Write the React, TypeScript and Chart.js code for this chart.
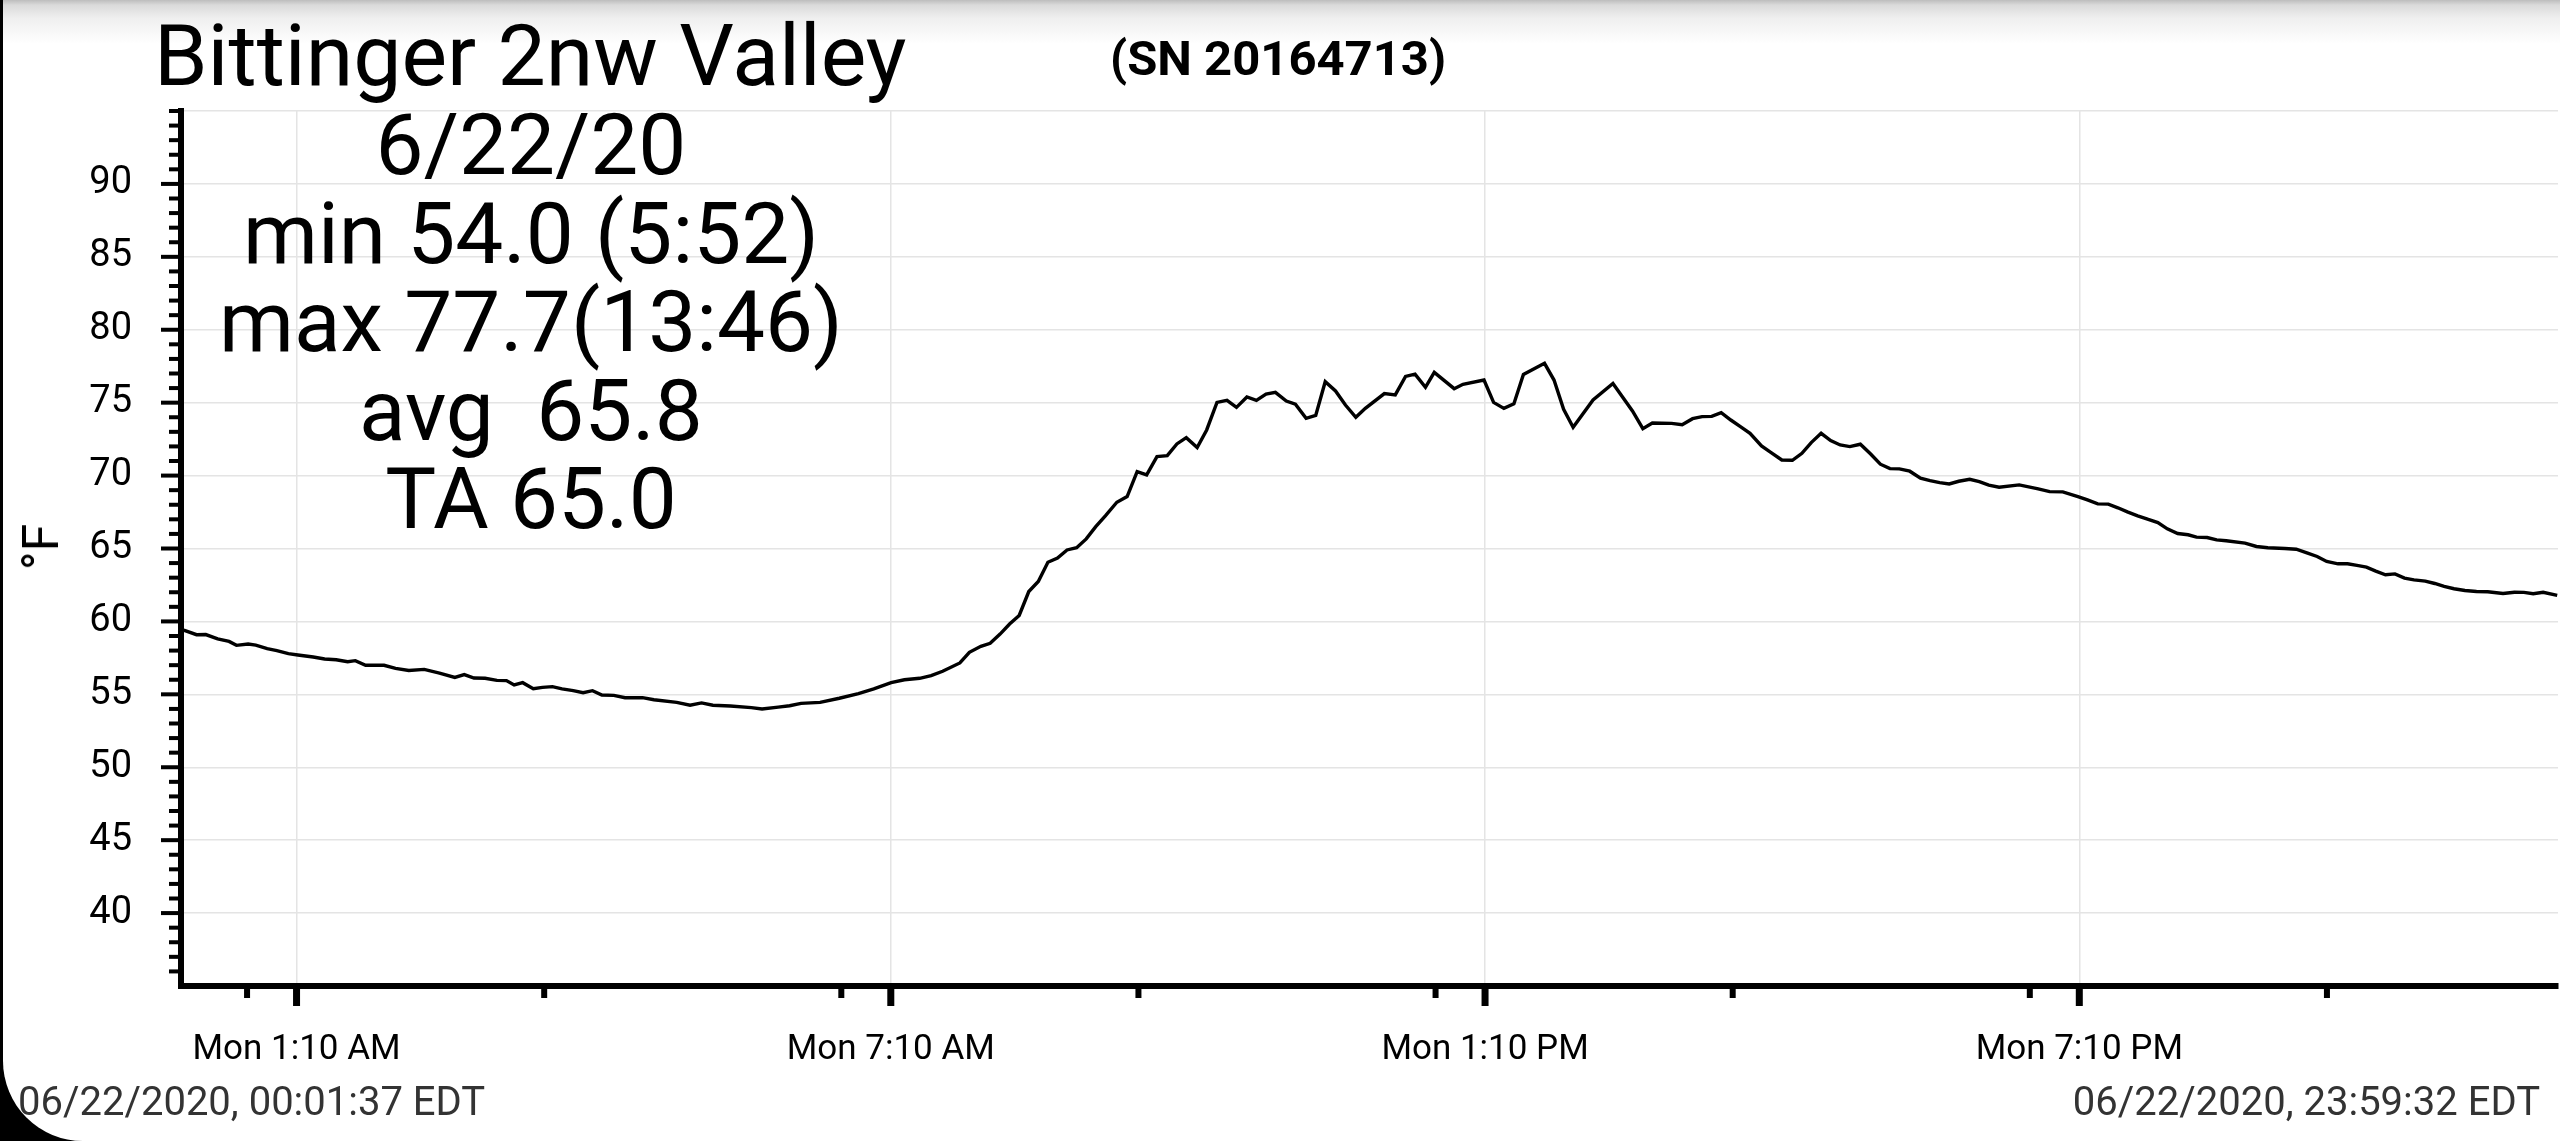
import React, { useEffect, useRef } from 'react';
import { Chart, registerables } from 'chart.js';

Chart.register(...registerables);

// ---- data (time of day in hours, temperature in °F) ----
const TIME_HOURS = [
  0.027, 0.157, 0.25, 0.37, 0.485, 0.56, 0.678, 0.755, 0.87, 0.968,
  1.084, 1.18, 1.335, 1.45, 1.567, 1.683, 1.76, 1.864, 2.05, 2.166,
  2.3, 2.456, 2.61, 2.765, 2.86, 2.958, 3.07, 3.19, 3.286, 3.364,
  3.45, 3.557, 3.65, 3.75, 3.847, 3.96, 4.06, 4.155, 4.25, 4.37,
  4.484, 4.66, 4.775, 5.005, 5.14, 5.256, 5.37, 5.547, 5.759, 5.867,
  6.03, 6.145, 6.26, 6.453, 6.647, 6.84, 6.995, 7.17, 7.304, 7.458,
  7.574, 7.69, 7.864, 7.96, 8.076, 8.17, 8.27, 8.366, 8.463, 8.56,
  8.656, 8.753, 8.85, 8.946, 9.043, 9.14, 9.236, 9.333, 9.449, 9.553,
  9.654, 9.75, 9.854, 9.958, 10.055, 10.15, 10.26, 10.356, 10.46, 10.561,
  10.657, 10.762, 10.858, 10.955, 11.05, 11.16, 11.252, 11.36, 11.457, 11.553,
  11.657, 11.757, 11.862, 11.958, 12.15, 12.26, 12.364, 12.46, 12.565, 12.654,
  12.855, 12.944, 13.156, 13.253, 13.357, 13.458, 13.554, 13.767, 13.863, 13.96,
  14.056, 14.257, 14.458, 14.655, 14.76, 14.856, 15.05, 15.157, 15.262, 15.358,
  15.455, 15.551, 15.648, 15.745, 15.842, 15.958, 16.055, 16.163, 16.27, 16.366,
  16.46, 16.56, 16.656, 16.752, 16.85, 16.956, 17.06, 17.158, 17.255, 17.35,
  17.455, 17.563, 17.66, 17.757, 17.853, 17.95, 18.06, 18.157, 18.253, 18.357,
  18.56, 18.752, 18.867, 19.0, 19.153, 19.249, 19.353, 19.46, 19.556, 19.652,
  19.756, 19.863, 19.96, 20.055, 20.16, 20.265, 20.35, 20.457, 20.553, 20.65,
  20.84, 20.955, 21.07, 21.242, 21.357, 21.472, 21.568, 21.664, 21.779, 21.875,
  21.97, 22.066, 22.16, 22.258, 22.354, 22.45, 22.546, 22.66, 22.756, 22.85,
  22.95, 23.06, 23.177, 23.29, 23.445, 23.56, 23.656, 23.75, 23.85, 23.992,
];

const TEMP_F = [
  59.4, 59.09, 59.1, 58.8, 58.63, 58.36, 58.45, 58.38, 58.13, 58.0,
  57.79, 57.7, 57.56, 57.42, 57.37, 57.24, 57.31, 56.99, 56.99, 56.78,
  56.64, 56.71, 56.46, 56.16, 56.35, 56.12, 56.1, 55.96, 55.94, 55.64,
  55.8, 55.39, 55.48, 55.53, 55.37, 55.25, 55.11, 55.25, 54.95, 54.93,
  54.77, 54.77, 54.63, 54.45, 54.25, 54.41, 54.25, 54.2, 54.09, 54.0,
  54.12, 54.22, 54.38, 54.45, 54.73, 55.05, 55.37, 55.8, 56.0, 56.1,
  56.28, 56.58, 57.15, 57.88, 58.29, 58.5, 59.13, 59.82, 60.41, 62.05,
  62.74, 64.06, 64.34, 64.9, 65.05, 65.66, 66.5, 67.24, 68.17, 68.56,
  70.27, 70.05, 71.3, 71.37, 72.17, 72.6, 71.92, 73.13, 75.02, 75.16,
  74.68, 75.39, 75.16, 75.59, 75.71, 75.11, 74.89, 73.93, 74.13, 76.44,
  75.8, 74.84, 74.0, 74.61, 75.62, 75.53, 76.8, 76.96, 76.05, 77.08,
  75.96, 76.26, 76.55, 75.02, 74.61, 74.93, 76.94, 77.7, 76.55, 74.54,
  73.31, 75.18, 76.32, 74.43, 73.22, 73.61, 73.58, 73.49, 73.9, 74.04,
  74.06, 74.32, 73.81, 73.36, 72.9, 72.03, 71.58, 71.07, 71.05, 71.53,
  72.26, 72.9, 72.4, 72.1, 71.99, 72.15, 71.48, 70.78, 70.48, 70.46,
  70.3, 69.82, 69.66, 69.52, 69.43, 69.61, 69.75, 69.59, 69.34, 69.2,
  69.36, 69.09, 68.9, 68.88, 68.56, 68.33, 68.06, 68.04, 67.79, 67.51,
  67.24, 66.99, 66.78, 66.35, 66.03, 65.94, 65.78, 65.75, 65.59, 65.53,
  65.37, 65.14, 65.05, 65.0, 64.95, 64.68, 64.45, 64.11, 63.95, 63.95,
  63.84, 63.72, 63.45, 63.2, 63.26, 62.97, 62.85, 62.76, 62.6, 62.4,
  62.24, 62.12, 62.05, 62.03, 61.92, 62.0, 61.99, 61.9, 62.0, 61.78,
];

const X_MAJOR_TICKS = [1 + 10 / 60, 7 + 10 / 60, 13 + 10 / 60, 19 + 10 / 60];
const X_MAJOR_LABELS = ['Mon 1:10 AM', 'Mon 7:10 AM', 'Mon 1:10 PM', 'Mon 7:10 PM'];
const X_MINOR_TICKS = [0.667, 3.667, 6.667, 9.667, 12.667, 15.667, 18.667, 21.667];
const X_MIN = 0;
const X_MAX = 24;
const Y_MIN = 35;
const Y_MAX = 95;
const Y_STEP = 5;

const TITLE = 'Bittinger 2nw Valley';
const SERIAL = '(SN 20164713)';
const STATS_LINES = ['6/22/20', 'min 54.0 (5:52)', 'max 77.7(13:46)', 'avg  65.8', 'TA 65.0'];
const Y_UNIT = '°F';
const START_STAMP = '06/22/2020, 00:01:37 EDT';
const END_STAMP = '06/22/2020, 23:59:32 EDT';

const FONT = 'Roboto, "Noto Sans", sans-serif';

const tickPlugin = {
  id: 'customTicks',
  afterDraw(chart: any) {
    const { ctx, chartArea } = chart;
    const x = chart.scales.x;
    const y = chart.scales.y;
    ctx.save();
    ctx.fillStyle = '#000';
    // y ticks: minor every 1°, major every 5°
    for (let v = Y_MIN + 1; v <= Y_MAX; v += 1) {
      const py = y.getPixelForValue(v);
      const major = v % Y_STEP === 0 && v !== Y_MAX;
      const len = major ? 17 : 9;
      ctx.fillRect(chartArea.left - 3 - len, py - 2, len, 4);
    }
    // x ticks
    const base = chartArea.bottom + 3;
    for (const v of X_MINOR_TICKS) {
      const px = x.getPixelForValue(v);
      ctx.fillRect(px - 3, base, 6, 9);
    }
    for (const v of X_MAJOR_TICKS) {
      const px = x.getPixelForValue(v);
      ctx.fillRect(px - 3.5, base, 7, 17);
    }
    ctx.restore();
  },
};

export default function App() {
  const canvasRef = useRef<HTMLCanvasElement | null>(null);

  useEffect(() => {
    document.body.style.margin = '0';
    document.body.style.overflow = 'hidden';
    const canvas = canvasRef.current;
    if (!canvas) return;
    const chart = new Chart(canvas, {
      type: 'line',
      data: {
        datasets: [
          {
            data: TIME_HOURS.map((t, i) => ({ x: t, y: TEMP_F[i] })),
            borderColor: '#000',
            borderWidth: 3.4,
            pointRadius: 0,
            tension: 0,
            fill: false,
          },
        ],
      },
      options: {
        animation: false,
        responsive: false,
        maintainAspectRatio: false,
        layout: { padding: { top: 111, right: 2, left: 0, bottom: 0 } },
        plugins: {
          legend: { display: false },
          tooltip: { enabled: false },
          title: { display: false },
        },
        scales: {
          x: {
            type: 'linear',
            min: X_MIN,
            max: X_MAX,
            afterBuildTicks: (s: any) => {
              s.ticks = X_MAJOR_TICKS.map((v) => ({ value: v }));
            },
            afterFit: (s: any) => {
              s.height = 155;
            },
            ticks: {
              autoSkip: false,
              maxRotation: 0,
              padding: 43,
              color: '#000',
              font: { family: FONT, size: 35 },
              callback: (_v: any, i: number) => X_MAJOR_LABELS[i],
            },
            grid: { color: '#e4e4e4', lineWidth: 1.5, drawTicks: false },
            border: { color: '#000', width: 6 },
          },
          y: {
            type: 'linear',
            min: Y_MIN,
            max: Y_MAX,
            afterFit: (s: any) => {
              s.width = 181;
            },
            ticks: {
              stepSize: Y_STEP,
              padding: 49,
              color: '#000',
              font: { family: FONT, size: 38 },
              callback: (v: any) => (v === Y_MIN || v === Y_MAX ? '' : String(v)),
            },
            grid: { color: '#e4e4e4', lineWidth: 1.5, drawTicks: false },
            border: { color: '#000', width: 6 },
          },
        },
      } as any,
      plugins: [tickPlugin],
    });
    return () => chart.destroy();
  }, []);

  const abs: React.CSSProperties = { position: 'absolute', whiteSpace: 'pre', margin: 0 };

  return (
    <div
      style={{
        position: 'relative',
        width: 2560,
        height: 1141,
        background: '#000',
        overflow: 'hidden',
        fontFamily: FONT,
        color: '#000',
      }}
    >
      <div
        style={{
          position: 'absolute',
          left: 3,
          top: 0,
          width: 2557,
          height: 1141,
          background: '#fff',
          borderBottomLeftRadius: 80,
        }}
      />
      <div
        style={{
          position: 'absolute',
          left: 3,
          top: 0,
          width: 2557,
          height: 44,
          background: 'linear-gradient(#bdbdbd 0px, #dadada 5px, #efefef 18px, #ffffff 44px)',
        }}
      />
      <canvas
        ref={canvasRef}
        width={2560}
        height={1141}
        style={{ position: 'absolute', left: 0, top: 0, width: 2560, height: 1141, display: 'block' }}
      />
      <div style={{ ...abs, left: 154, top: 13, fontSize: 86, lineHeight: '86px' }}>{TITLE}</div>
      <div style={{ ...abs, left: 1110, top: 34, fontSize: 49, lineHeight: '49px', fontWeight: 700 }}>{SERIAL}</div>
      <div
        style={{
          ...abs,
          left: 131,
          width: 800,
          top: 101,
          textAlign: 'center',
          fontSize: 85.5,
          lineHeight: '88.6px',
        }}
      >
        {STATS_LINES.join('\n')}
      </div>
      <div
        style={{
          ...abs,
          left: 41,
          top: 547,
          fontSize: 50,
          lineHeight: '50px',
          transform: 'translate(-50%, -50%) rotate(-90deg)',
        }}
      >
        {Y_UNIT}
      </div>
      <div style={{ ...abs, left: 18, top: 1082, fontSize: 40, lineHeight: '40px', color: '#333' }}>{START_STAMP}</div>
      <div style={{ ...abs, right: 20, top: 1082, fontSize: 40, lineHeight: '40px', color: '#333' }}>{END_STAMP}</div>
    </div>
  );
}
